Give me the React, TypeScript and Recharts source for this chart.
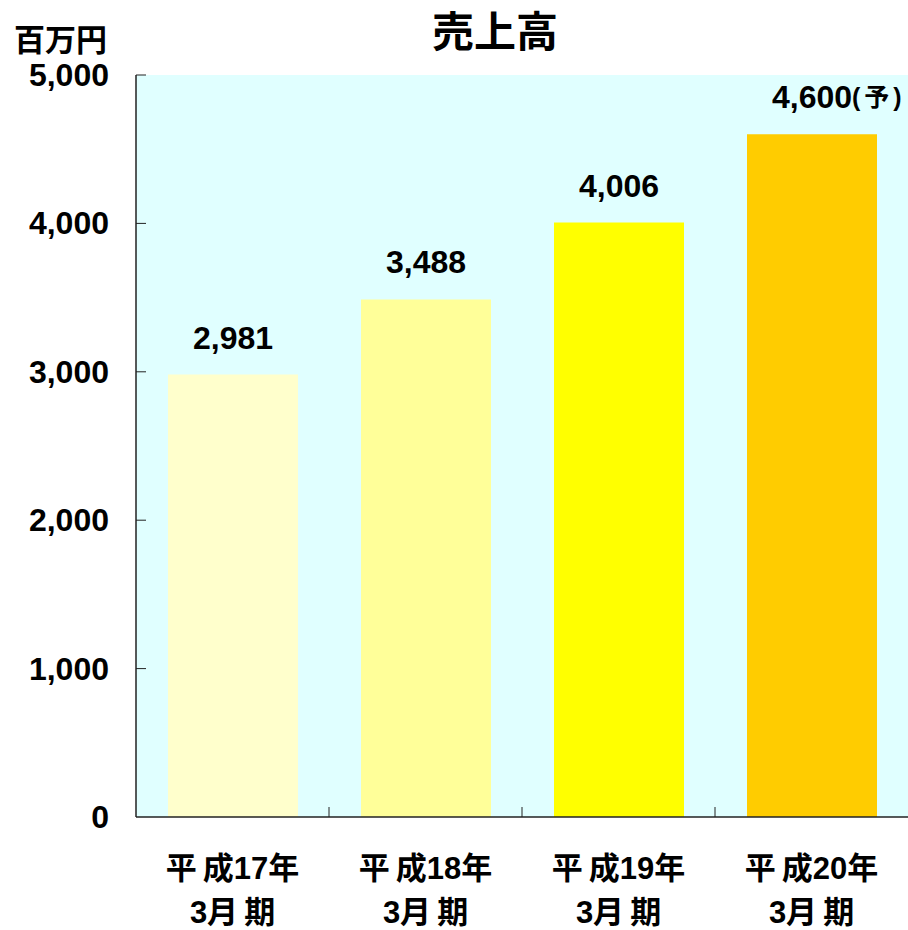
import React from 'react';
import { BarChart, Bar, XAxis, YAxis, CartesianGrid, LabelList, Cell } from 'recharts';

const FONT = "'Liberation Sans', 'Noto Sans CJK JP', sans-serif";

// 売上高 (百万円)
const YEARS = ['平成17年', '平成18年', '平成19年', '平成20年'];
const PERIODS = ['3月期', '3月期', '3月期', '3月期'];
const SALES = [2981, 3488, 4006, 4600];
const NOTES = ['', '', '', '(予)'];
const BAR_COLORS = ['#FFFFCC', '#FFFF99', '#FFFF00', '#FFCC00'];
const Y_TICKS = [0, 1000, 2000, 3000, 4000, 5000];

const DATA = YEARS.map((y, i) => ({ year: y, period: PERIODS[i], sales: SALES[i], note: NOTES[i] }));

const W = 908;
const H = 930;
const LEFT = 136;
const BAND = (W - LEFT) / YEARS.length;

const fmt = (v: number) => v.toLocaleString('en-US');

function YTick(props: any) {
  const { x, y, payload } = props;
  return (
    <g>
      {payload.value !== 0 && <line x1={x} x2={x + 10} y1={y} y2={y} stroke="#222" strokeWidth={1} />}
      <text x={x - 27} y={y + 11} textAnchor="end" fontFamily={FONT} fontWeight="bold" fontSize={32} fill="#000">
        {fmt(payload.value)}
      </text>
    </g>
  );
}

function XTick(props: any) {
  const { x, y, payload, index } = props;
  const year: string = payload.value;
  const period = PERIODS[index];
  return (
    <g>
      {index < YEARS.length - 1 && (
        <line x1={x + BAND / 2} x2={x + BAND / 2} y1={y} y2={y - 10} stroke="#222" strokeWidth={1} />
      )}
      <text x={x} y={y + 62} textAnchor="middle" fontFamily={FONT} fontWeight="bold" fontSize={31} fill="#000">
        <tspan>{year.slice(0, 1)}</tspan>
        <tspan dx={6}>{year.slice(1)}</tspan>
      </text>
      <text x={x} y={y + 106} textAnchor="middle" fontFamily={FONT} fontWeight="bold" fontSize={31} fill="#000">
        <tspan>{period.slice(0, 2)}</tspan>
        <tspan dx={6}>{period.slice(2)}</tspan>
      </text>
    </g>
  );
}

function BarLabel(props: any) {
  const { x, y, width, value, index } = props;
  const cx = x + width / 2;
  const note = NOTES[index];
  return (
    <g>
      <text x={cx} y={y - 26} textAnchor="middle" fontFamily={FONT} fontWeight="bold" fontSize={32} fill="#000">
        {fmt(value)}
      </text>
      {note && (
        <text x={cx + 40} y={y - 28} textAnchor="start" fontFamily={FONT} fontWeight="bold" fontSize={25} fill="#000" letterSpacing={4}>
          {note}
        </text>
      )}
    </g>
  );
}

export default function App() {
  return (
    <div style={{ position: 'absolute', left: 0, top: 0, width: W, height: H, background: '#fff' }}>
      <svg width={W} height={H} style={{ position: 'absolute', left: 0, top: 0 }}>
        <text x={495} y={47} textAnchor="middle" fontFamily={FONT} fontWeight="bold" fontSize={42} fill="#000">
          売上高
        </text>
        <text x={14} y={51} textAnchor="start" fontFamily={FONT} fontWeight="bold" fontSize={31} fill="#000">
          百万円
        </text>
      </svg>
      <div style={{ position: 'absolute', left: 0, top: 0 }}>
        <BarChart width={W} height={H} data={DATA} margin={{ top: 75, right: 0, bottom: 0, left: 0 }}>
          <CartesianGrid fill="#E0FFFF" horizontal={false} vertical={false} stroke="none" />
          <XAxis
            dataKey="year"
            height={113}
            tickSize={0}
            tickMargin={0}
            tickLine={false}
            axisLine={{ stroke: '#222', strokeWidth: 1.5 }}
            tick={<XTick />}
            interval={0}
          />
          <YAxis
            width={LEFT}
            domain={[0, 5000]}
            ticks={Y_TICKS}
            tickSize={0}
            tickMargin={0}
            tickLine={false}
            axisLine={{ stroke: '#222', strokeWidth: 1.5 }}
            tick={<YTick />}
            interval={0}
          />
          <Bar dataKey="sales" barSize={130} isAnimationActive={false}>
            {DATA.map((d, i) => (
              <Cell key={d.year} fill={BAR_COLORS[i]} />
            ))}
            <LabelList dataKey="sales" content={<BarLabel />} />
          </Bar>
        </BarChart>
      </div>
    </div>
  );
}
